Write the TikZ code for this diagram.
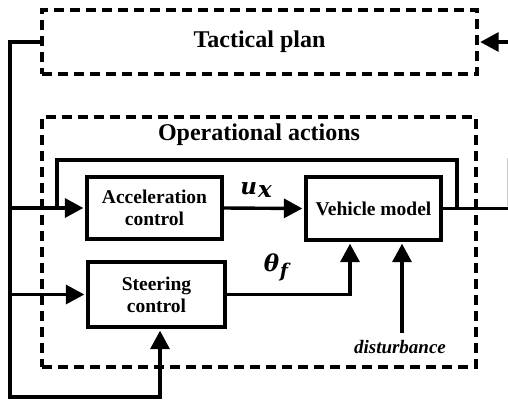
\documentclass[tikz,border=0pt]{standalone}
\usepackage{fontspec}
\setmainfont{Liberation Serif}
\newfontfamily\symfnt{DejaVu Serif}
\usetikzlibrary{arrows.meta,calc}
\begin{document}
\begin{tikzpicture}[x=1pt,y=-1pt,
  conn/.style={line width=3.4pt},
  arr/.style={conn,-{Triangle[length=18.5pt,width=19pt]},shorten >=1.5pt},
  blk/.style={draw,line width=4.3pt,align=center,inner sep=0pt,
    font={\fontsize{19.5}{22}\selectfont\bfseries}},
  dbox/.style={draw,line width=3.4pt,dash pattern=on 10pt off 6pt,inner sep=0pt},
  ttl/.style={font={\fontsize{24}{26}\selectfont\bfseries}},
  sym/.style={font={\symfnt\fontsize{23}{26}\selectfont\bfseries\itshape},inner sep=0pt}]
\useasboundingbox (0,0) rectangle (508,400);
% containers
\node[dbox,minimum width=435pt,minimum height=64pt,ttl] (tact) at (259.5,42) {Tactical plan};
\node[dbox,minimum width=434pt,minimum height=250pt] (op) at (259,242) {};
\node[ttl] (optitle) at (259,135) {Operational actions};
% blocks
\node[blk,minimum width=135pt,minimum height=62pt] (acc) at (154.5,208) {Acceleration\\control};
\node[blk,minimum width=135pt,minimum height=63pt] (veh) at (373.5,208.5) {Vehicle model};
\node[blk,minimum width=137pt,minimum height=65pt] (steer) at (156.5,294.5) {Steering\\control};
% labels
\node[sym] (ux) at (256,190) {u\hspace{1pt}\raisebox{-3pt}{x}};
\node[sym] (thf) at (276,267) {θ\hspace{0.5pt}\raisebox{-6pt}{\fontsize{19}{20}\selectfont f}};
\node[font={\fontsize{19}{20}\selectfont\bfseries\itshape},inner sep=0pt] (dist) at (400,347) {disturbance};
% coordinates
\coordinate (tin) at (508,42);
\coordinate (jl1) at (10,208);
\coordinate (jl2) at (10,294.5);
\coordinate (bl) at (10,397);
\coordinate (out) at (508,208.5);
\coordinate (fb1) at (457,208.5);
\coordinate (fb2) at (57,208);
\coordinate (din) at (402,333);
% connectors
\draw[arr] (tin) -- (tact.east);
\draw[arr] (tact.west) -| (bl) -| ([xshift=3.5pt]steer.south);
\draw[arr] (jl1) -- (acc.west);
\draw[arr] (jl2) -- (steer.west);
\draw[arr] (acc.east) -- (veh.west);
\draw[conn] (veh.east) -- (out);
\draw[conn] (fb1) -- ++(0,-48.5) -| (fb2);
\draw[arr] (steer.east) -| ([xshift=-23.5pt]veh.south);
\draw[arr] (din) -- (din |- veh.south);
\draw[black!20,line width=0.8pt] (507,158) -- (507,206);
\end{tikzpicture}
\end{document}
